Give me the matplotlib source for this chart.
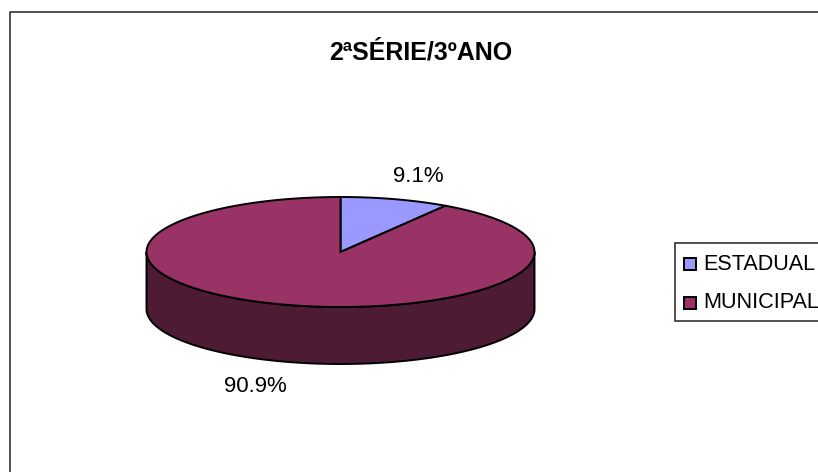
import matplotlib
matplotlib.use("Agg")
import matplotlib.pyplot as plt
import numpy as np
from matplotlib.patches import Polygon, Rectangle

plt.rcParams['font.family'] = ['Liberation Sans', 'DejaVu Sans']

title = "2ªSÉRIE/3ºANO"
categories = ["ESTADUAL", "MUNICIPAL"]
values = [9.1, 90.9]
labels = ["9.1%", "90.9%"]
colors = ["#9999FF", "#993366"]
side_color = "#4D1B33"

cx, cy = 340.5, 252
rx, ry = 194, 55
depth = 57


def rim(a0, a1, n=200):
    # angles run clockwise from 12 o'clock, like the spreadsheet pie
    t = np.linspace(a0, a1, n)
    return np.column_stack([cx + rx*np.sin(t), cy - ry*np.cos(t)])


fig = plt.figure(figsize=(8.18, 4.72), dpi=100)
ax = fig.add_axes([0, 0, 1, 1])
ax.set_xlim(0, 818)
ax.set_ylim(472, 0)
ax.axis('off')

# chart frame, runs off the right and bottom of the image
ax.plot([9.5, 9.5, 830], [480, 11.5, 11.5], color="#333333", lw=1.2)

ax.text(421, 52, title, fontsize=18, fontweight='bold', ha='center', va='center')

# side wall of the disc, front half only
front = rim(np.pi/2, 3*np.pi/2)
wall = np.vstack([front, front[::-1] + [0, depth]])
ax.add_patch(Polygon(wall, closed=True, fc=side_color, ec='black', lw=1.4, zorder=2))

# top face
start = 0
for val, col in zip(values, colors):
    end = start + val/sum(values)*2*np.pi
    pts = np.vstack([[cx, cy], rim(start, end)])
    ax.add_patch(Polygon(pts, closed=True, fc=col, ec='black', lw=1.4, zorder=3))
    start = end

ax.text(418, 176, labels[0], fontsize=16, ha='center', va='center')
ax.text(255, 386, labels[1], fontsize=16, ha='center', va='center')

# legend, also cut by the right edge
ax.add_patch(Rectangle((674.5, 242.5), 160, 78, fc='white', ec='#333333', lw=1.2, clip_on=True))
for i, (cat, col) in enumerate(zip(categories, colors)):
    y = 264 + i*39
    ax.add_patch(Rectangle((683.5, y-6.5), 12, 12, fc=col, ec='black', lw=1.4, zorder=3))
    ax.text(703, y, cat, fontsize=15.6, ha='left', va='center', clip_on=True)

fig.savefig("out.png", dpi=100, facecolor='white')
